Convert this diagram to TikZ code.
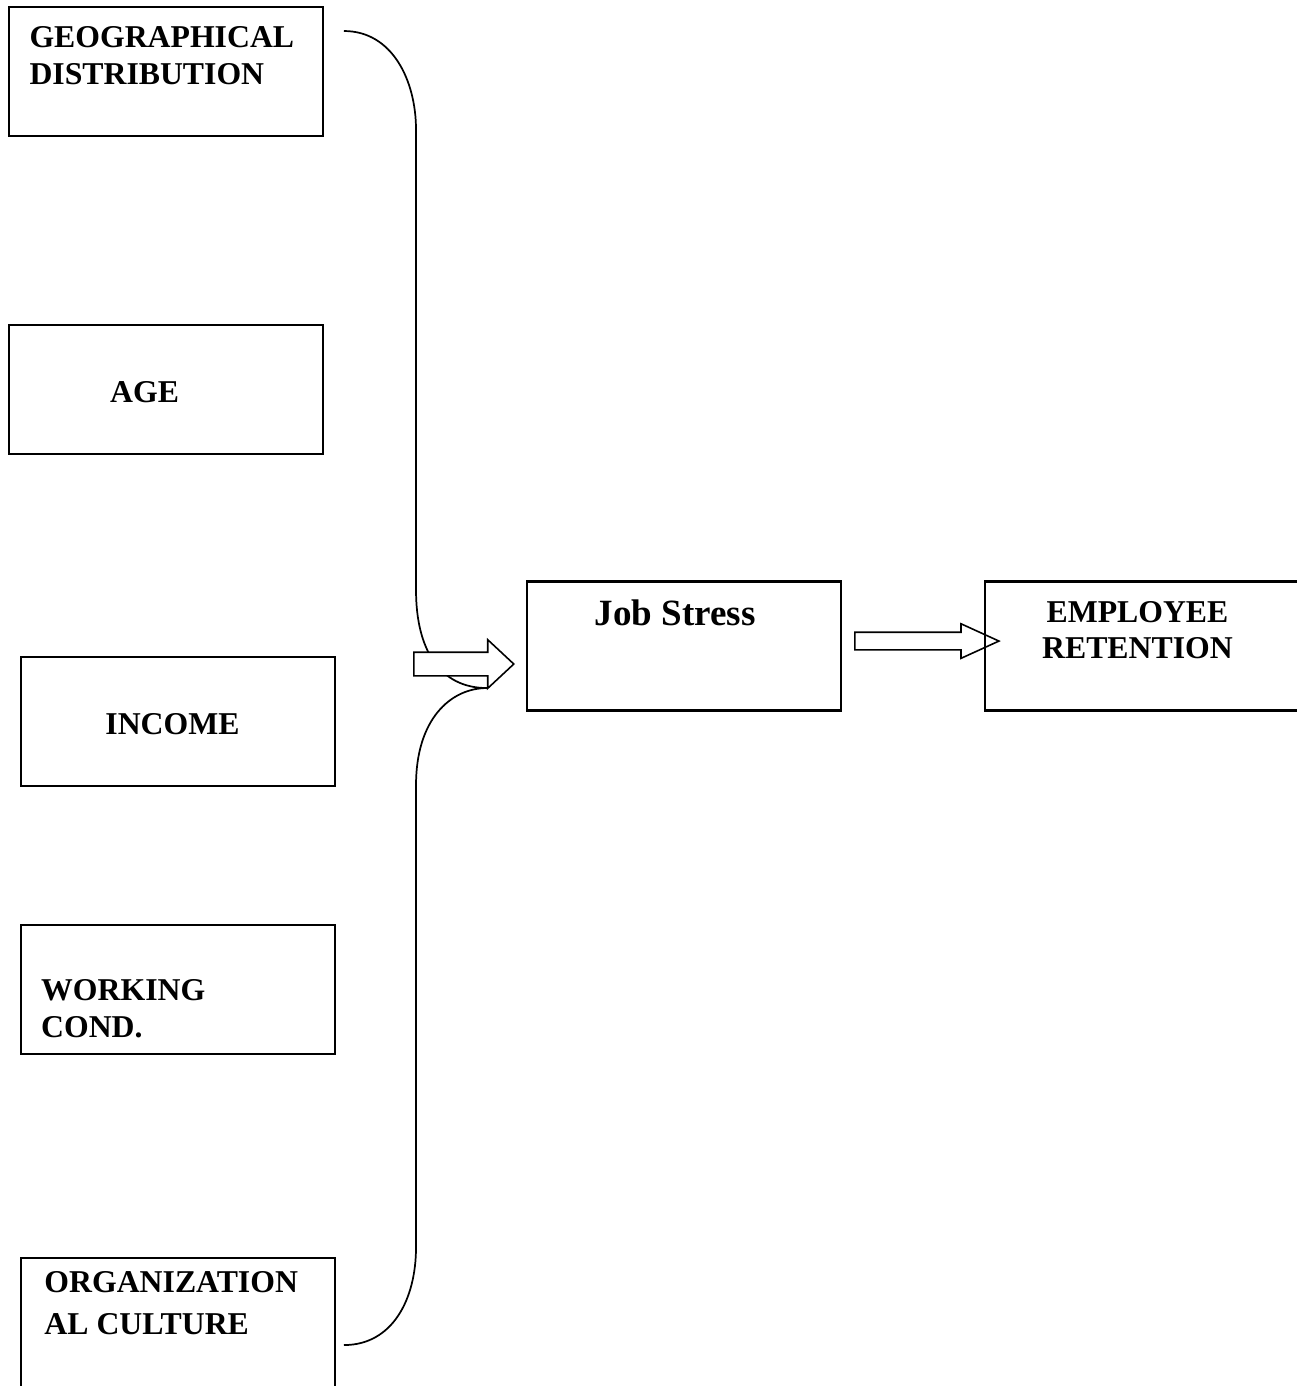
\documentclass[tikz,border=0pt]{standalone}
\usepackage{fontspec}
\setmainfont{Liberation Serif}
\usepackage{tikz}
\usetikzlibrary{shapes,arrows,positioning,calc}

\begin{document}
\begin{tikzpicture}[node distance=2.5cm and 1.9cm,every node/.style={font=\bfseries\fontsize{12}{13.8}\selectfont},
  box/.style={draw,thick,minimum width=4.17cm,minimum height=1.714cm,inner sep=0pt},
  lbl/.style={inner sep=0pt,align=left},
  blockarrow/.style={draw,semithick,fill=white,single arrow,single arrow head indent=0pt,inner sep=0pt,text depth=0pt}]
\useasboundingbox (0,0) rectangle (17.215,-18.41);
\draw[line width=0.65pt] (4.569,-0.412) .. controls (5.207,-0.412) and (5.526,-1.063) .. (5.526,-1.727) -- (5.526,-7.837) .. controls (5.526,-8.634) and (5.845,-9.139) .. (6.469,-9.139) coordinate (tip) .. controls (5.977,-9.139) and (5.526,-9.564) .. (5.526,-10.427) -- (5.526,-16.564) .. controls (5.526,-17.268) and (5.207,-17.866) .. (4.569,-17.866);
\node[blockarrow,anchor=west,minimum height=1.328cm,text height=0.292cm,single arrow head extend=0.166cm,single arrow tip angle=86](inarrow) at (5.486,-8.820){};
\node[box](geo) at (2.205,-0.95){};
\node[box,below=2.48cm of geo](age){};
\node[box,below=2.67cm of age,xshift=0.159cm](income){};
\node[box,below=1.82cm of income](working){};
\node[box,below=2.68cm of working](org){};
\node[box](job) at (9.086,-8.581){};
\node[blockarrow,right=0.16cm of job.east,yshift=0.066cm,minimum height=1.913cm,text height=0.2125cm,single arrow head extend=0.113cm,single arrow tip angle=49](outarrow){};
\node[box,right=1.885cm of job](emp){};
\node[lbl,below right=0.266cm and 0.279cm of geo.north west](geotxt){GEOGRAPHICAL\\DISTRIBUTION};
\node[lbl,below right=0.753cm and 1.351cm of age.north west](agetxt){AGE};
\node[lbl,below right=0.757cm and 1.129cm of income.north west](incometxt){INCOME};
\node[lbl,below right=0.731cm and 0.275cm of working.north west](workingtxt){WORKING\\COND.};
\node[lbl,below right=0.186cm and 0.319cm of org.north west](orgtxt){ORGANIZATION\\[2pt]AL CULTURE};
\node[lbl,below right=0.252cm and 0.903cm of job.north west,font=\bfseries\fontsize{14}{16}\selectfont](jobtxt){Job Stress};
\node[lbl,align=center,below right=0.266cm and 0.766cm of emp.north west](emptxt){EMPLOYEE\\RETENTION};
\end{tikzpicture}
\end{document}
